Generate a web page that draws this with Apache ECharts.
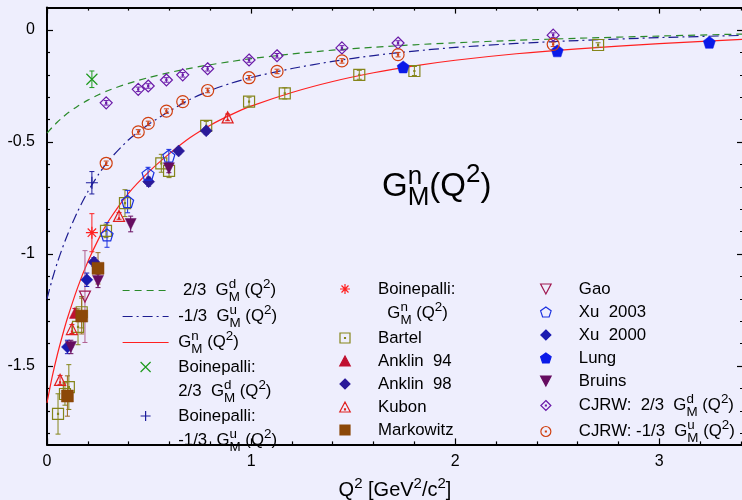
<!DOCTYPE html>
<html><head><meta charset="utf-8">
<script src="https://cdn.jsdelivr.net/npm/echarts@6/dist/echarts.min.js"></script>
<style>html,body{margin:0;padding:0;background:#eeeefd}#c{width:742px;height:500px}</style>
</head><body><div id="c"></div>
<script>
// ---------- axis ticks ----------
const xMajorTicks = [0, 1, 2, 3];
const xMinorTicks = [0.2,0.4,0.6,0.8,1.2,1.4,1.6,1.8,2.2,2.4,2.6,2.8,3.2,3.4];
const yMajorTicks = [-1.5, -1, -0.5, 0];
const yMinorTicks = [-1.8,-1.7,-1.6,-1.4,-1.3,-1.2,-1.1,-0.9,-0.8,-0.7,-0.6,-0.4,-0.3,-0.2,-0.1];

// ---------- curves ----------
const curveQ2 = [0,0.025,0.05,0.075,0.1,0.15,0.2,0.25,0.3,0.4,0.5,0.6,0.7,0.8,0.9,1.0,1.2,1.4,1.6,1.8,2.0,2.3,2.6,3.0,3.41];
const gdVal = [-0.46,-0.435,-0.412,-0.391,-0.372,-0.340,-0.313,-0.290,-0.270,-0.238,-0.212,-0.190,-0.171,-0.155,-0.141,-0.128,-0.107,-0.090,-0.077,-0.066,-0.057,-0.046,-0.037,-0.027,-0.018];
const guVal = [-1.2,-1.115,-1.04,-0.975,-0.915,-0.81,-0.722,-0.648,-0.585,-0.49,-0.42,-0.362,-0.31,-0.27,-0.238,-0.212,-0.172,-0.14,-0.114,-0.094,-0.078,-0.06,-0.047,-0.034,-0.024];
const gnVal = [-1.665,-1.55,-1.452,-1.366,-1.287,-1.15,-1.035,-0.938,-0.855,-0.728,-0.632,-0.552,-0.481,-0.425,-0.379,-0.34,-0.279,-0.23,-0.191,-0.16,-0.135,-0.106,-0.084,-0.061,-0.042];

// ---------- data points (Q2, value, error) ----------
const boinQ2 = [0.22];
const boinD = [-0.22],  boinDErr = [0.037];
const boinU = [-0.682], boinUErr = [0.05];
const boinN = [-0.905], boinNErr = [0.085];

const bartelQ2  = [0.054,0.088,0.107,0.152,0.17,0.289,0.382,0.56,0.598,0.78,0.99,1.165,1.53,1.80,2.70];
const bartelVal = [-1.714,-1.625,-1.594,-1.325,-1.26,-0.897,-0.773,-0.595,-0.629,-0.428,-0.32,-0.283,-0.20,-0.183,-0.067];
const bartelErr = [0.09,0.05,0.1,0.08,0.07,0.03,0.06,0.04,0.03,0.02,0.02,0.025,0.02,0.02,0.01];

const anklin94Q2 = [0.137], anklin94Val = [-1.263], anklin94Err = [0.02];
const anklin98Q2 = [0.23,0.498,0.645,0.78], anklin98Val = [-1.036,-0.677,-0.54,-0.45], anklin98Err = [0.02,0.02,0.015,0.015];
const kubonQ2 = [0.064,0.122,0.353,0.885], kubonVal = [-1.562,-1.335,-0.83,-0.39], kubonErr = [0.02,0.02,0.015,0.015];
const markowitzQ2 = [0.10,0.17,0.25], markowitzVal = [-1.634,-1.277,-1.064], markowitzErr = [0.09,0.08,0.07];
const gaoQ2 = [0.186], gaoVal = [-1.19], gaoErr = [0.205];
const xu2003Q2 = [0.294,0.395,0.495,0.597], xu2003Val = [-0.915,-0.766,-0.643,-0.563], xu2003Err = [0.055,0.05,0.03,0.03];
const xu2000Q2 = [0.10,0.195], xu2000Val = [-1.415,-1.115], xu2000Err = [0.03,0.03];
const lungQ2 = [1.745,2.50,3.245], lungVal = [-0.165,-0.093,-0.055], lungErr = [0.01,0.01,0.01];
const bruinsQ2 = [0.117,0.25,0.41,0.597], bruinsVal = [-1.415,-1.12,-0.866,-0.617], bruinsErr = [0.03,0.03,0.035,0.02];
const cjrwQ2 = [0.29,0.447,0.496,0.585,0.665,0.787,0.99,1.127,1.445,1.72,2.48];
const cjrwD = [-0.325,-0.265,-0.25,-0.223,-0.20,-0.173,-0.134,-0.115,-0.08,-0.058,-0.023];
const cjrwDErr = [0.01,0.01,0.01,0.01,0.01,0.01,0.01,0.01,0.01,0.01,0.01];
const cjrwU = [-0.595,-0.455,-0.417,-0.362,-0.32,-0.27,-0.213,-0.185,-0.138,-0.11,-0.064];
const cjrwUErr = [0.01,0.01,0.01,0.01,0.01,0.01,0.01,0.01,0.01,0.01,0.01];

// ---------- legend labels ----------
const legendLabels = {
  gd: '  2/3  G{s|d}{b|M} (Q{p|2})',
  gu: ' -1/3  G{s|u}{b|M} (Q{p|2})',
  gn: ' G{s|n}{b|M} (Q{p|2})',
  bd: ' Boinepalli:',
  bd2: ' 2/3  G{s|d}{b|M} (Q{p|2})',
  bu: ' Boinepalli:',
  bu2: ' -1/3  G{s|u}{b|M} (Q{p|2})',
  bn: 'Boinepalli:',
  bn2: '  G{s|n}{b|M} (Q{p|2})',
  bartel: 'Bartel', anklin94: 'Anklin  94', anklin98: 'Anklin  98', kubon: 'Kubon', markowitz: 'Markowitz',
  gao: 'Gao', xu2003: 'Xu  2003', xu2000: 'Xu  2000', lung: 'Lung', bruins: 'Bruins',
  cjrwd: 'CJRW:  2/3  G{s|d}{b|M} (Q{p|2})',
  cjrwu: 'CJRW: -1/3  G{s|u}{b|M} (Q{p|2})'
};
const col1 = ['gd','gu','gn','bd','bd2','bu','bu2'];
const col2 = ['bn','bn2','bartel','anklin94','anklin98','kubon','markowitz'];
const col3 = ['gao','xu2003','xu2000','lung','bruins','cjrwd','cjrwu'];
const dummyNames = ['bd2','bu2','bn2'];
const lineNames = ['gd','gu','gn'];

const FF = '"Liberation Sans", Arial, Helvetica, sans-serif';
const P_X = 'path://M-1,-1L1,1M-1,1L1,-1';
const P_PLUS = 'path://M-1,0L1,0M0,-1L0,1';
const P_STAR = 'path://M-1,0L1,0M0,-1L0,1M-0.7,-0.7L0.7,0.7M-0.7,0.7L0.7,-0.7';
const P_PENT = 'path://M0,-1L0.951,-0.309L0.588,0.809L-0.588,0.809L-0.951,-0.309Z';
const P_RECT = 'path://M-1,-1L1,-1L1,1L-1,1Z';
const P_RECTD = 'path://M-1,-1L1,-1L1,1L-1,1ZM-0.09,-0.09L0.09,-0.09L0.09,0.09L-0.09,0.09Z';
const P_TRI = 'path://M0,-1L1,0.9L-1,0.9Z';
const P_TRID = 'path://M0,-1L1,0.9L-1,0.9ZM-0.09,0.3L0.09,0.3L0.09,0.48L-0.09,0.48Z';
const P_DTRI = 'path://M-1,-0.9L1,-0.9L0,1Z';
const P_DIAM = 'path://M0,-1L1,0L0,1L-1,0Z';
const P_DIAMD = 'path://M0,-1L1,0L0,1L-1,0ZM-0.09,-0.09L0.09,-0.09L0.09,0.09L-0.09,0.09Z';
const P_CIRCD = 'path://M1,0A1,1 0 1,1 -1,0A1,1 0 1,1 1,0ZM-0.09,-0.09L0.09,-0.09L0.09,0.09L-0.09,0.09Z';
const NONE = 'rgba(0,0,0,0)';

const pts = (xs, ys) => xs.map((x, i) => [x, ys[i]]);
const epts = (xs, ys, es) => xs.map((x, i) => [x, ys[i], es[i]]);

const markers = [
  {name:'bd', q:boinQ2, v:boinD, e:boinDErr, sym:P_X, size:11, stroke:'#1e9a1e', fill:NONE, bw:1.2},
  {name:'bu', q:boinQ2, v:boinU, e:boinUErr, sym:P_PLUS, size:12, stroke:'#1c1c9c', fill:NONE, bw:1.2},
  {name:'bn', q:boinQ2, v:boinN, e:boinNErr, sym:P_STAR, size:12, stroke:'#ff2020', fill:NONE, bw:1.2},
  {name:'bartel', q:bartelQ2, v:bartelVal, e:bartelErr, sym:P_RECTD, size:11, stroke:'#85851a', fill:NONE, bw:1.2},
  {name:'anklin94', q:anklin94Q2, v:anklin94Val, e:anklin94Err, sym:P_TRI, size:11, stroke:'#c01030', fill:'#c01030', bw:0.5},
  {name:'anklin98', q:anklin98Q2, v:anklin98Val, e:anklin98Err, sym:P_DIAM, size:12, stroke:'#2a1a9a', fill:'#2a1a9a', bw:0.5},
  {name:'kubon', q:kubonQ2, v:kubonVal, e:kubonErr, sym:P_TRID, size:11, stroke:'#e02020', fill:NONE, bw:1.2},
  {name:'markowitz', q:markowitzQ2, v:markowitzVal, e:markowitzErr, sym:P_RECT, size:12, stroke:'#8c4808', fill:'#8c4808', bw:0.5, ecol:'#9a6a20'},
  {name:'gao', q:gaoQ2, v:gaoVal, e:gaoErr, sym:P_DTRI, size:11, stroke:'#a01850', fill:NONE, bw:1.2, ecol:'#b06090'},
  {name:'xu2003', q:xu2003Q2, v:xu2003Val, e:xu2003Err, sym:P_PENT, size:12, stroke:'#1a30e0', fill:NONE, bw:1.2},
  {name:'xu2000', q:xu2000Q2, v:xu2000Val, e:xu2000Err, sym:P_DIAM, size:12, stroke:'#1a1ab0', fill:'#1a1ab0', bw:0.5},
  {name:'lung', q:lungQ2, v:lungVal, e:lungErr, sym:P_PENT, size:12, stroke:'#0a1ae8', fill:'#0a1ae8', bw:0.5},
  {name:'bruins', q:bruinsQ2, v:bruinsVal, e:bruinsErr, sym:P_DTRI, size:11, stroke:'#660c60', fill:'#660c60', bw:0.5},
  {name:'cjrwd', q:cjrwQ2, v:cjrwD, e:cjrwDErr, sym:P_DIAMD, size:12, stroke:'#6a1aa8', fill:NONE, bw:1.2},
  {name:'cjrwu', q:cjrwQ2, v:cjrwU, e:cjrwUErr, sym:P_CIRCD, size:12, stroke:'#d04010', fill:NONE, bw:1.2}
];

const series = [];
const curves = [
  {name:'gd', v:gdVal, color:'#2a8a2a', type:[7,5]},
  {name:'gu', v:guVal, color:'#1c1c90', type:[10,4,2,4]},
  {name:'gn', v:gnVal, color:'#ff2020', type:'solid'}
];
curves.forEach(c => series.push({
  type:'line', name:c.name, data:pts(curveQ2, c.v), symbol:'none', smooth:0.25,
  lineStyle:{color:c.color, width:1.2, type:c.type}, itemStyle:{color:NONE, borderWidth:0}, z:2, silent:true
}));
markers.forEach(m => {
  const ecol = m.ecol || m.stroke;
  series.push({
    type:'custom', name:m.name + '_err', silent:true, z:3,
    data: epts(m.q, m.v, m.e),
    encode:{x:0, y:1},
    renderItem: (params, api) => {
      const x = api.value(0), y = api.value(1), e = api.value(2);
      const t = api.coord([x, y + e]), b = api.coord([x, y - e]);
      const cap = 2.5;
      const st = {stroke: ecol, lineWidth: 1};
      return {type:'group', children:[
        {type:'line', shape:{x1:t[0], y1:t[1], x2:b[0], y2:b[1]}, style:st},
        {type:'line', shape:{x1:t[0]-cap, y1:t[1], x2:t[0]+cap, y2:t[1]}, style:st},
        {type:'line', shape:{x1:b[0]-cap, y1:b[1], x2:b[0]+cap, y2:b[1]}, style:st}
      ]};
    }
  });
  series.push({
    type:'scatter', name:m.name, data:pts(m.q, m.v), symbol:m.sym, symbolSize:m.size, z:4, silent:true,
    itemStyle:{color:m.fill, borderColor:m.stroke, borderWidth:m.bw, opacity:1}
  });
});
dummyNames.forEach(n => series.push({type:'scatter', name:n, data:[], symbol:'none'}));

const richSmall = {
  s:{fontSize:13.4, fontFamily:FF, color:'#000', height:10, verticalAlign:'top', width:0},
  b:{fontSize:13.4, fontFamily:FF, color:'#000', height:10, verticalAlign:'bottom'},
  p:{fontSize:13.4, fontFamily:FF, color:'#000', height:10, verticalAlign:'top'}
};
function mkLegend(names, left, itemWidth) {
  return {
    data: names.map(n => dummyNames.includes(n) ? {name:n, icon:'none'}
                     : lineNames.includes(n) ? {name:n, itemStyle:{color:NONE, borderWidth:0, opacity:0}}
                     : {name:n}),
    orient:'vertical', align:'left', left:left, top:277.5, padding:0, itemGap:0,
    itemWidth:itemWidth, itemHeight:10, selectedMode:false, symbolKeepAspect:true,
    formatter: n => legendLabels[n],
    textStyle:{fontSize:16.8, fontFamily:FF, color:'#000', lineHeight:23, rich:richSmall},
    lineStyle:{width:1.2}, itemStyle:{borderWidth:1.2}
  };
}

const xBase = {type:'value', min:0, max:3.41, splitLine:{show:false}};
const yBase = {type:'value', min:-1.85, max:0.1, splitLine:{show:false}};
const tickStyle = {color:'#000', width:1.2};
function ax(base, pos, vals, len, line, labels) {
  const o = Object.assign({}, base, {
    position:pos,
    axisLine:{show:line, onZero:false, lineStyle:{color:'#000', width:2}},
    axisTick:{show:true, inside:true, length:len, lineStyle:tickStyle, customValues:vals},
    axisLabel:{show:false}
  });
  if (labels) o.axisLabel = labels;
  return o;
}
const xLab = {show:true, customValues:xMajorTicks, color:'#000', fontSize:16, fontFamily:FF, margin:9};
const yLab = {show:true, customValues:yMajorTicks, color:'#000', fontSize:16, fontFamily:FF, margin:12};

const xAxes = [
  ax(xBase, 'bottom', xMajorTicks, 6, true, xLab),
  ax(xBase, 'bottom', xMinorTicks, 3, false),
  ax(xBase, 'top', xMajorTicks, 6, true),
  ax(xBase, 'top', xMinorTicks, 3, false)
];
Object.assign(xAxes[0], {
  name:'Q{p|2} [GeV{p|2}/c{p|2}]', nameLocation:'middle', nameGap:33,
  nameTextStyle:{fontSize:20, fontFamily:FF, color:'#000', lineHeight:26,
    rich:{p:{fontSize:15, fontFamily:FF, color:'#000', height:12, verticalAlign:'top'}}}
});
const yAxes = [
  ax(yBase, 'left', yMajorTicks, 6, true, yLab),
  ax(yBase, 'left', yMinorTicks, 3, false),
  ax(yBase, 'right', yMajorTicks, 6, true),
  ax(yBase, 'right', yMinorTicks, 3, false)
];

const option = {
  animation:false,
  backgroundColor:'#eeeefd',
  grid:{left:47, top:7.6, width:696, height:436.8, containLabel:false, outerBoundsMode:'none'},
  title:{
    text:'G{s|n}{b|M}(Q{p|2})', left:382, top:162, padding:0,
    textStyle:{fontSize:33, fontFamily:FF, fontWeight:'normal', color:'#000', lineHeight:50,
      rich:{
        s:{fontSize:26, fontFamily:FF, fontWeight:'normal', color:'#000', height:30, verticalAlign:'top', width:0},
        b:{fontSize:26, fontFamily:FF, fontWeight:'normal', color:'#000', height:28, verticalAlign:'bottom'},
        p:{fontSize:26, fontFamily:FF, fontWeight:'normal', color:'#000', height:26, verticalAlign:'top'}
      }}
  },
  legend:[mkLegend(col1, 122, 46), mkLegend(col2, 317, 56), mkLegend(col3, 540, 56)],
  xAxis:xAxes,
  yAxis:yAxes,
  series:series
};
const chart = echarts.init(document.getElementById('c'));
chart.setOption(option);
</script>
</body></html>
